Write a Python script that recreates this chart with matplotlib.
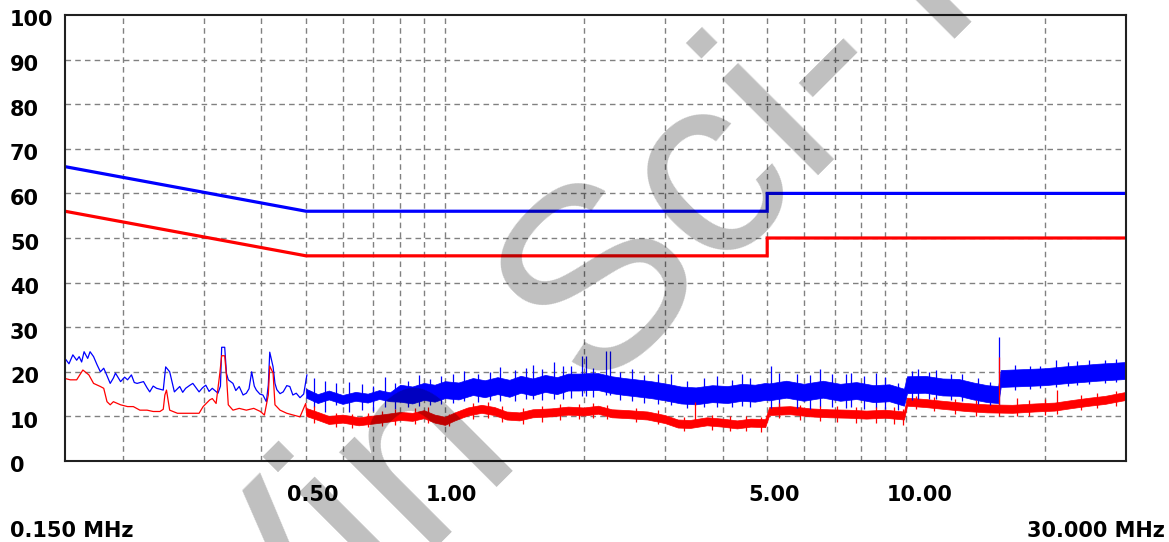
import matplotlib
matplotlib.use('Agg')
import matplotlib.pyplot as plt
from matplotlib.ticker import NullLocator
from matplotlib.transforms import offset_copy

# limit lines, MHz / dBuV
limit_freq = [0.15, 0.5, 5.0, 5.0, 30.0]
qp_limit = [66, 56, 56, 60, 60]
av_limit = [56, 46, 46, 50, 50]

# low end of the sweep (sparse points), peak trace
peak_lo_freq = [0.150, 0.153, 0.156, 0.159, 0.161, 0.163, 0.165, 0.168, 0.170, 0.173, 0.176, 0.179,
                0.182, 0.184, 0.188, 0.191, 0.193, 0.198, 0.202, 0.205, 0.209, 0.212, 0.215, 0.222,
                0.226, 0.229, 0.233, 0.237, 0.245, 0.248, 0.253, 0.259, 0.266, 0.270, 0.274, 0.280,
                0.284, 0.293, 0.298, 0.303, 0.308, 0.313, 0.322, 0.326, 0.328, 0.333, 0.336, 0.339,
                0.347, 0.352, 0.358, 0.365, 0.371, 0.376, 0.381, 0.386, 0.390, 0.397, 0.403, 0.410,
                0.414, 0.417, 0.424, 0.428, 0.432, 0.439, 0.446, 0.454, 0.461, 0.468, 0.476, 0.485,
                0.494, 0.502]
peak_lo_val = [23.0, 21.8, 23.8, 22.6, 23.4, 22.2, 24.5, 23.0, 24.5, 23.4, 21.6, 20.0,
               20.8, 19.7, 17.4, 18.6, 19.7, 17.8, 18.8, 18.2, 19.3, 17.6, 17.4, 17.8,
               16.4, 15.5, 16.8, 16.3, 15.9, 21.1, 20.0, 15.5, 16.7, 15.4, 16.3, 17.0,
               17.4, 15.5, 16.4, 17.0, 15.6, 16.3, 15.2, 16.8, 25.5, 25.5, 19.6, 18.2,
               17.4, 15.8, 16.7, 14.8, 15.2, 16.2, 20.0, 16.8, 15.9, 15.0, 14.8, 13.3,
               17.0, 24.4, 21.1, 17.4, 16.0, 15.1, 15.5, 16.9, 16.7, 14.8, 15.2, 14.2,
               15.0, 19.3]

# low end of the sweep, average trace
avg_lo_freq = [0.150, 0.154, 0.159, 0.164, 0.169, 0.173, 0.179, 0.182, 0.185, 0.188, 0.191, 0.198,
               0.205, 0.211, 0.218, 0.226, 0.233, 0.241, 0.245, 0.247, 0.249, 0.253, 0.263, 0.274,
               0.284, 0.293, 0.299, 0.309, 0.313, 0.319, 0.325, 0.328, 0.333, 0.336, 0.339, 0.347,
               0.358, 0.371, 0.385, 0.398, 0.406, 0.414, 0.417, 0.424, 0.428, 0.439, 0.454, 0.469,
               0.485, 0.499, 0.502]
avg_lo_val = [18.5, 18.2, 18.2, 20.4, 19.3, 17.4, 16.7, 16.3, 13.3, 12.6, 13.3, 12.6,
              12.2, 12.2, 11.4, 11.4, 11.1, 11.1, 11.6, 14.8, 15.9, 11.4, 10.7, 10.7,
              10.7, 10.7, 12.2, 13.7, 14.0, 12.9, 19.7, 23.6, 23.6, 19.0, 12.6, 11.4,
              11.8, 11.4, 11.8, 11.1, 10.3, 14.8, 21.3, 19.7, 12.6, 11.4, 10.7, 10.3,
              9.9, 12.9, 10.5]

# dense part of the sweep: core of the noise band (min / max)
peak_band_freq = [0.50, 0.53, 0.56, 0.60, 0.64, 0.68, 0.72, 0.76, 0.80, 0.85, 0.90, 0.95,
                  1.00, 1.07, 1.15, 1.22, 1.30, 1.38, 1.46, 1.55, 1.65, 1.75, 1.85, 1.95,
                  2.05, 2.15, 2.30, 2.45, 2.60, 2.80, 3.00, 3.25, 3.50, 3.80, 4.10, 4.40,
                  4.70, 4.95, 5.05, 5.50, 6.00, 6.60, 7.20, 7.80, 8.50, 9.20, 9.90, 10.05,
                  11.0, 12.0, 13.0, 14.0, 15.0, 15.85, 16.05, 18.0, 20.0, 22.0, 24.0, 26.0,
                  28.0, 30.0]
peak_band_min = [14.2, 13.0, 13.8, 12.8, 13.5, 13.1, 13.9, 13.4, 13.3, 12.9, 13.7, 13.3,
                 14.1, 13.8, 14.8, 14.3, 15.0, 14.4, 15.3, 14.7, 15.5, 15.0, 15.8, 15.8,
                 15.9, 15.9, 15.2, 14.8, 14.5, 14.1, 13.6, 12.9, 12.7, 13.2, 13.0, 13.5,
                 13.3, 13.7, 13.6, 14.2, 13.5, 14.2, 13.5, 13.9, 13.2, 13.4, 12.4, 15.2,
                 15.3, 14.7, 14.6, 13.8, 13.2, 13.0, 16.6, 16.8, 17.0, 17.4, 17.7, 18.0,
                 18.2, 18.4]
peak_band_max = [16.2, 15.0, 15.8, 14.8, 15.5, 15.1, 15.9, 15.4, 17.1, 16.7, 17.5, 17.1,
                 17.9, 17.6, 18.6, 18.1, 18.8, 18.2, 19.1, 18.5, 19.3, 18.8, 19.6, 19.6,
                 19.7, 19.7, 19.0, 18.6, 18.3, 17.9, 17.4, 16.7, 16.5, 17.0, 16.8, 17.3,
                 17.1, 17.5, 17.4, 18.0, 17.3, 18.0, 17.3, 17.7, 17.0, 17.2, 16.2, 19.0,
                 19.1, 18.5, 18.4, 17.6, 17.0, 16.8, 20.4, 20.6, 20.8, 21.2, 21.5, 21.8,
                 22.0, 22.2]

avg_band_freq = [0.50, 0.53, 0.56, 0.60, 0.65, 0.70, 0.75, 0.80, 0.85, 0.90, 0.95, 1.00,
                 1.05, 1.12, 1.20, 1.28, 1.36, 1.45, 1.55, 1.70, 1.85, 2.00, 2.15, 2.30,
                 2.50, 2.75, 3.00, 3.20, 3.40, 3.70, 4.00, 4.30, 4.60, 4.95, 5.05, 5.60,
                 6.20, 6.80, 7.50, 8.20, 9.00, 9.90, 10.05, 11.0, 12.0, 13.5, 15.0, 17.0,
                 19.0, 21.0, 23.0, 25.0, 27.0, 30.0]
avg_band_min = [10.1, 9.2, 8.3, 8.6, 8.0, 8.4, 8.8, 9.2, 9.0, 9.6, 8.6, 8.1,
                9.1, 10.2, 10.8, 10.3, 9.3, 9.1, 9.8, 10.0, 10.4, 10.2, 10.6, 9.8,
                9.6, 9.3, 8.5, 7.5, 7.4, 8.0, 7.7, 7.3, 7.7, 7.6, 10.3, 10.5,
                10.0, 9.8, 9.7, 9.5, 9.7, 9.3, 12.4, 12.1, 11.7, 11.2, 10.9, 10.8,
                11.1, 11.3, 11.9, 12.4, 12.8, 13.7]
avg_band_max = [11.9, 11.0, 10.1, 10.4, 9.8, 10.2, 10.6, 11.0, 10.8, 11.4, 10.4, 9.9,
                10.9, 12.0, 12.6, 12.1, 11.1, 10.9, 11.6, 11.8, 12.2, 12.0, 12.4, 11.6,
                11.4, 11.1, 10.3, 9.3, 9.2, 9.8, 9.5, 9.1, 9.5, 9.4, 12.1, 12.3,
                11.8, 11.6, 11.5, 11.3, 11.5, 11.1, 14.2, 13.9, 13.5, 13.0, 12.7, 12.6,
                12.9, 13.1, 13.7, 14.2, 14.6, 15.5]

# single sweeps reaching out of the band core (freq, bottom, top)
peak_spike_freq = [0.52, 0.55, 0.58, 0.62, 0.66, 0.70, 0.74, 0.78, 0.83, 0.88, 0.93, 0.98,
                   1.04, 1.10, 1.18, 1.25, 1.32, 1.42, 1.50, 1.55, 1.62, 1.72, 1.80, 1.88,
                   1.98, 2.02, 2.10, 2.23, 2.28, 2.40, 2.55, 2.70, 2.90, 3.10, 3.35, 3.65,
                   3.90, 4.20, 4.40, 4.60, 5.10, 5.30, 5.80, 6.20, 6.50, 6.90, 7.40, 7.60,
                   8.10, 8.60, 9.00, 9.60, 10.3, 10.6, 11.2, 11.6, 12.5, 13.2, 14.3, 15.2,
                   15.9, 17.2, 18.6, 19.5, 21.2, 22.5, 23.5, 25.0, 27.0, 28.5]
peak_spike_bot = [12.0, 11.0, 12.5, 11.0, 11.5, 11.2, 12.0, 11.6, 12.2, 12.4, 12.6, 12.8,
                  13.0, 13.4, 13.2, 13.6, 13.4, 13.4, 13.8, 14.0, 13.6, 14.0, 13.8, 14.2,
                  14.6, 14.6, 14.4, 14.8, 14.8, 13.6, 13.4, 13.0, 12.8, 12.6, 11.8, 12.0,
                  12.2, 12.0, 12.4, 12.2, 11.8, 11.6, 11.8, 11.6, 12.0, 12.2, 11.8, 12.0,
                  11.6, 11.8, 11.6, 11.4, 13.6, 14.0, 13.8, 14.0, 13.6, 13.4, 12.8, 12.6,
                  12.6, 16.0, 16.2, 16.4, 16.6, 16.8, 17.0, 17.2, 17.6, 17.8]
peak_spike_top = [18.6, 18.0, 17.4, 17.8, 17.2, 16.8, 18.8, 17.4, 18.0, 19.2, 18.4, 19.0,
                  19.4, 20.2, 19.6, 20.0, 21.0, 20.4, 20.8, 21.6, 20.6, 22.3, 21.2, 21.4,
                  23.5, 23.5, 20.8, 24.6, 24.6, 20.0, 20.6, 19.2, 19.6, 19.4, 18.0, 18.6,
                  19.0, 18.2, 19.6, 18.6, 21.4, 19.8, 19.6, 19.2, 20.6, 19.4, 19.6, 19.8,
                  19.0, 19.8, 18.8, 17.6, 20.2, 20.6, 20.0, 20.4, 19.6, 19.4, 18.6, 17.8,
                  27.8, 21.6, 21.4, 21.2, 22.6, 22.2, 22.4, 22.6, 22.6, 22.8]

avg_spike_freq = [0.52, 0.58, 0.63, 0.68, 0.73, 0.78, 0.86, 0.92, 1.02, 1.15, 1.24, 1.33,
                  1.48, 1.62, 1.78, 1.95, 2.10, 2.25, 2.60, 2.90, 3.30, 3.48, 3.80, 4.15,
                  4.50, 4.85, 5.30, 5.90, 6.50, 7.10, 7.80, 8.60, 9.40, 9.85, 10.5, 11.5,
                  12.8, 14.2, 15.9, 17.4, 18.5, 20.0, 21.3, 24.0, 26.0, 28.5]
avg_spike_bot = [8.6, 7.6, 7.4, 7.6, 7.8, 8.0, 8.2, 8.6, 7.8, 9.4, 9.6, 8.8,
                 8.4, 8.8, 9.2, 9.4, 9.6, 9.4, 8.8, 8.4, 6.8, 8.0, 7.0, 6.8,
                 6.8, 6.6, 9.6, 9.2, 9.0, 8.8, 8.6, 8.6, 8.4, 8.0, 11.6, 11.2,
                 10.6, 10.2, 10.0, 10.2, 10.2, 10.4, 10.6, 11.4, 11.8, 12.4]
avg_spike_top = [12.4, 10.8, 10.6, 10.8, 11.2, 11.6, 11.8, 12.0, 10.6, 13.0, 13.2, 12.4,
                 11.8, 12.4, 12.8, 12.8, 13.0, 12.6, 11.8, 11.4, 9.8, 13.2, 10.4, 10.0,
                 10.2, 9.8, 13.0, 12.6, 12.4, 12.4, 12.2, 12.2, 12.0, 11.6, 14.6, 14.4,
                 14.0, 13.6, 23.3, 14.2, 13.6, 13.8, 15.9, 14.8, 15.2, 15.8]

grid_freqs = [0.2, 0.3, 0.4, 0.5, 0.6, 0.7, 0.8, 0.9, 1.0, 2, 3, 4, 5, 6, 7, 8, 9, 10, 20]
x_label_freqs = [0.5, 1.0, 5.0, 10.0]
x_label_text = ['0.50', '1.00', '5.00', '10.00']
y_ticks = list(range(0, 101, 10))

W, H = 1169, 542
BLUE = '#0000ff'
RED = '#ff0000'
font = dict(family='DejaVu Sans', fontweight='bold', fontsize=15, color='black')

fig = plt.figure(figsize=(W / 100, H / 100), dpi=100)
fig.patch.set_facecolor('white')
ax = fig.add_axes([65 / W, (H - 461) / H, (1126 - 65) / W, (461 - 15) / H])
ax.set_xscale('log')
ax.set_xlim(0.15, 30)
ax.set_ylim(0, 100)

ax.set_xticks(grid_freqs)
ax.xaxis.set_minor_locator(NullLocator())
ax.set_yticks(y_ticks[1:-1])
ax.tick_params(length=0, labelbottom=False, labelleft=False)
ax.grid(True, color='#808080', linestyle=(0, (4, 3)), linewidth=1.0)
ax.set_axisbelow(True)
for sp in ax.spines.values():
    sp.set_color('#202020')
    sp.set_linewidth(1.5)

# limits
ax.plot(limit_freq, qp_limit, color=BLUE, lw=2.3, solid_joinstyle='miter')
ax.plot(limit_freq, av_limit, color=RED, lw=2.3, solid_joinstyle='miter')

# peak trace
ax.plot(peak_lo_freq, peak_lo_val, color=BLUE, lw=0.9)
ax.fill_between(peak_band_freq, peak_band_min, peak_band_max, color=BLUE, lw=0.5)
ax.vlines(peak_spike_freq, peak_spike_bot, peak_spike_top, color=BLUE, lw=0.9)

# average trace
ax.plot(avg_lo_freq, avg_lo_val, color=RED, lw=0.9)
ax.fill_between(avg_band_freq, avg_band_min, avg_band_max, color=RED, lw=0.5)
ax.vlines(avg_spike_freq, avg_spike_bot, avg_spike_top, color=RED, lw=0.9)

# axis labels drawn as plain text like the analyser screen
ytrans = offset_copy(ax.get_yaxis_transform(), fig=fig, x=-55, y=-5.5, units='dots')
for v in y_ticks:
    ax.text(0, v, str(v), transform=ytrans, ha='left', va='center', clip_on=False, **font)

xtrans = offset_copy(ax.get_xaxis_transform(), fig=fig, x=-19, y=-34, units='dots')
for f, t in zip(x_label_freqs, x_label_text):
    ax.text(f, 0, t, transform=xtrans, ha='left', va='center', clip_on=False, **font)

fig.text(10 / W, (H - 531) / H, '0.150 MHz', ha='left', va='center', **font)
fig.text(1165 / W, (H - 531) / H, '30.000 MHz', ha='right', va='center', **font)

# watermark
wm = dict(family='Liberation Sans', fontsize=186, color='black', alpha=0.25,
          rotation=45, rotation_mode='anchor', ha='left', va='baseline')
fig.text(265 / W, -176 / H, 'Vin', **wm)
fig.text(590 / W, 150 / H, 'Sci-T', **wm)

fig.savefig('out.png', dpi=100, facecolor='white')
